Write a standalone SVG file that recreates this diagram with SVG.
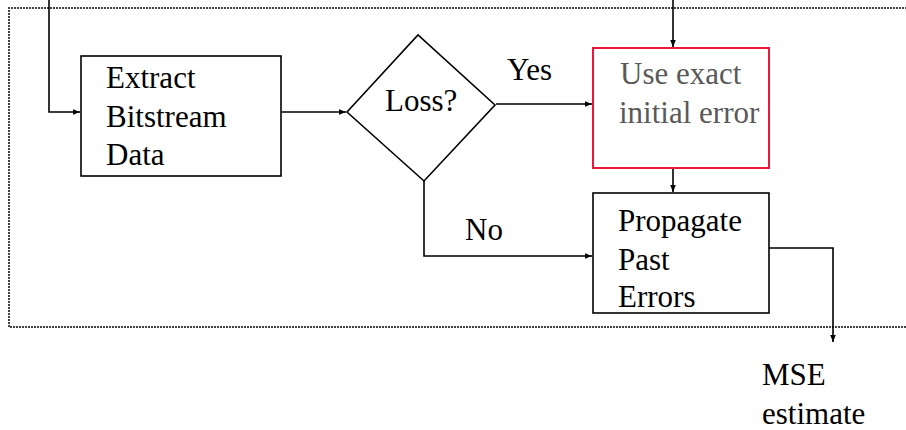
<svg xmlns="http://www.w3.org/2000/svg" width="906" height="430" viewBox="0 0 906 430">
<style>
text{font-family:"Liberation Serif","Times New Roman",serif;font-size:31px;fill:#000}
.box{fill:#fff;stroke:#000;stroke-width:1.6}
.red{fill:#fff;stroke:#e8193c;stroke-width:2}
.grey{fill:#595959}
.conn{fill:none;stroke:#000;stroke-width:1.6}
.dot{fill:none;stroke:#444;stroke-width:2;stroke-dasharray:2 1}
</style>
<defs>
<marker id="ah" viewBox="0 0 10 10" refX="10" refY="5" markerWidth="7" markerHeight="7" markerUnits="userSpaceOnUse" orient="auto">
<path d="M0,1 L10,5 L0,9 z" fill="#000"/>
</marker>
</defs>
<rect width="906" height="430" fill="#fff"/>
<path class="dot" d="M910 8 H9 V327 H910"/>
<g id="connectors">
<path class="conn" d="M49 0 V112 H80" marker-end="url(#ah)"/>
<path class="conn" d="M282 112 H346" marker-end="url(#ah)"/>
<path class="conn" d="M496 104 H592" marker-end="url(#ah)"/>
<path class="conn" d="M673 0 V47" marker-end="url(#ah)"/>
<path class="conn" d="M673 168 V192" marker-end="url(#ah)"/>
<path class="conn" d="M424 181 V256 H592" marker-end="url(#ah)"/>
<path class="conn" d="M769 248 H833 V342" marker-end="url(#ah)"/>
</g>
<g id="extract">
<rect class="box" x="81" y="56" width="200" height="120"/>
<text x="106" y="88">Extract</text>
<text x="106" y="127">Bitstream</text>
<text x="106" y="165">Data</text>
</g>
<g id="loss">
<polygon class="box" points="347,112 418,35 495,105 424,181"/>
<text x="385" y="111">Loss?</text>
</g>
<g id="yes-label"><text x="507" y="80">Yes</text></g>
<g id="no-label"><text x="465" y="240">No</text></g>
<g id="use-exact">
<rect class="red" x="593" y="48" width="176" height="120"/>
<text class="grey" x="620" y="84">Use exact</text>
<text class="grey" x="619" y="123">initial error</text>
</g>
<g id="propagate">
<rect class="box" x="593" y="193" width="176" height="120"/>
<text x="618" y="231">Propagate</text>
<text x="618" y="270">Past</text>
<text x="618" y="307">Errors</text>
</g>
<g id="mse">
<text x="762" y="385">MSE</text>
<text x="762" y="424">estimate</text>
</g>
</svg>
